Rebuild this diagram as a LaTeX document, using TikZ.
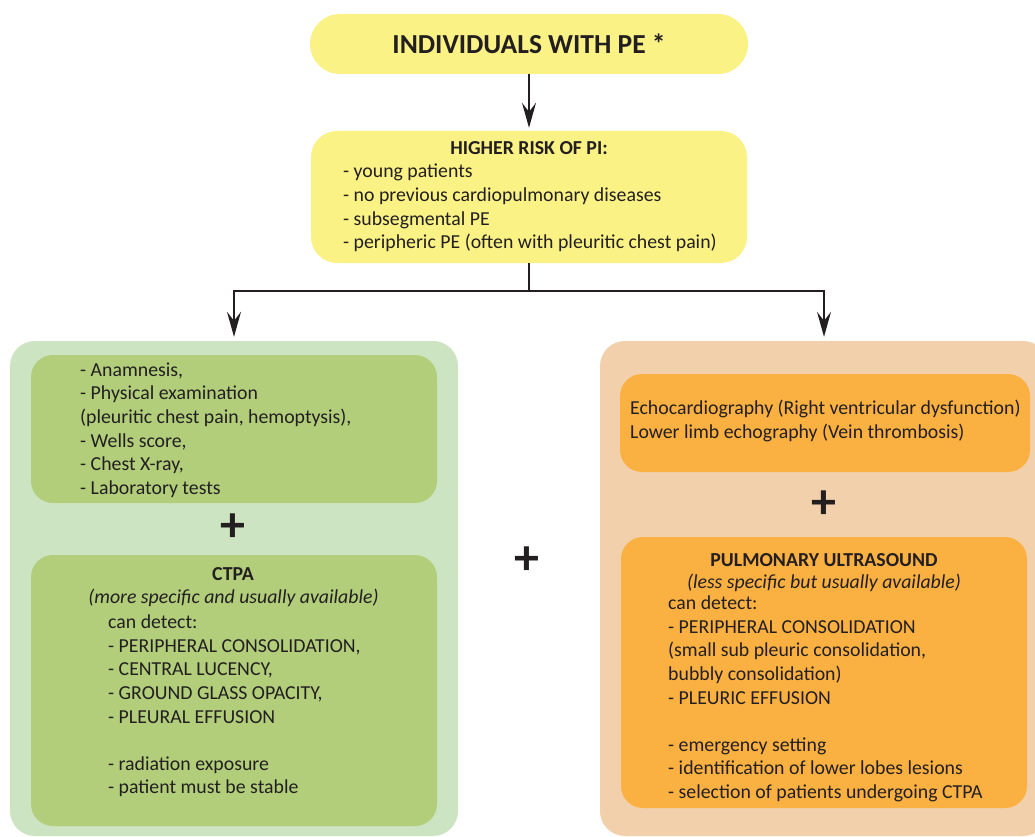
\documentclass[tikz,border=0pt]{standalone}
\usepackage{fontspec}
\setmainfont{Carlito}
\usetikzlibrary{arrows.meta}
\definecolor{ink}{HTML}{231F20}
\definecolor{peyellow}{HTML}{FAF285}
\definecolor{greenpale}{HTML}{CDE4C2}
\definecolor{greenmid}{HTML}{B2CE7B}
\definecolor{orangepale}{HTML}{F1D0AB}
\definecolor{orangemid}{HTML}{FBB042}
\begin{document}
\begin{tikzpicture}[x=1pt,y=-1pt,
    card/.style={inner sep=0pt,rounded corners=#1},
    txt/.style={text=ink,inner sep=0pt,align=left,font=\fontsize{19.8}{23.6}\selectfont},
    head/.style={text=ink,inner sep=0pt,font=\fontsize{19.8}{23.6}\selectfont\bfseries},
    note/.style={text=ink,inner sep=0pt,font=\fontsize{19.8}{23.6}\selectfont\itshape},
    plus/.style={text=ink,inner sep=0pt,font=\fontsize{50}{50}\selectfont\bfseries},
    arr/.style={-{Stealth[length=25pt,width=14pt,inset=9pt]},line width=1.5pt,draw=ink}]
    \useasboundingbox (0,0) rectangle (1035,837);
    \clip (0,0) rectangle (1035,837);

    % top
    \node[card=30pt,fill=peyellow,minimum width=438pt,minimum height=60pt] (pe) at (529,44) {};
    \node[text=ink,font=\fontsize{27.5}{30}\selectfont\bfseries] (petext) at (529,44) {INDIVIDUALS WITH PE *};
    \node[card=26pt,fill=peyellow,minimum width=436pt,minimum height=132pt] (risk) at (529,197) {};
    \node[head] (risktitle) at (529,148) {HIGHER RISK OF PI:};
    \node[txt,anchor=west] (risklist) at (343,208) {- young patients\\- no previous cardiopulmonary diseases\\- subsegmental PE\\- peripheric PE (often with pleuritic chest pain)};

    % left column
    \node[card=25pt,fill=greenpale,minimum width=448pt,minimum height=495pt] (leftpanel) at (234,588.5) {};
    \node[card=22pt,fill=greenmid,minimum width=406pt,minimum height=148pt] (clinic) at (234,429) {};
    \node[txt,anchor=west] (cliniclist) at (80,430) {- Anamnesis,\\- Physical examination\\(pleuritic chest pain, hemoptysis),\\- Wells score,\\- Chest X-ray,\\- Laboratory tests};
    \node[plus] (plusleft) at (233,528) {+};
    \node[card=22pt,fill=greenmid,minimum width=406pt,minimum height=271pt] (ctpa) at (234,690.5) {};
    \node[head] (ctpatitle) at (233,574) {CTPA};
    \node[note] (ctpanote) at (233.5,598) {(more specific and usually available)};
    \node[txt,anchor=west] (ctpalist) at (108,706) {can detect:\\- PERIPHERAL CONSOLIDATION,\\- CENTRAL LUCENCY,\\- GROUND GLASS OPACITY,\\- PLEURAL EFFUSION\\[23.6pt]- radiation exposure\\- patient must be stable};

    % middle
    \node[plus] (plusmid) at (527,561) {+};

    % right column
    \node[card=25pt,fill=orangepale,minimum width=448pt,minimum height=495pt] (rightpanel) at (824,588.5) {};
    \node[card=22pt,fill=orangemid,minimum width=410pt,minimum height=98pt] (echo) at (825,423) {};
    \node[txt,anchor=west] (echolist) at (630,421) {Echocardiography (Right ventricular dysfunction)\\Lower limb echography (Vein thrombosis)};
    \node[plus] (plusright) at (824,505) {+};
    \node[card=22pt,fill=orangemid,minimum width=406pt,minimum height=271pt] (lus) at (824,672.5) {};
    \node[head] (lustitle) at (824,560) {PULMONARY ULTRASOUND};
    \node[note] (lusnote) at (824,583) {(less specific but usually available)};
    \node[txt,anchor=west] (luslist) at (668,699) {can detect:\\- PERIPHERAL CONSOLIDATION\\(small sub pleuric consolidation,\\bubbly consolidation)\\- PLEURIC EFFUSION\\[23.6pt]- emergency setting\\- identification of lower lobes lesions\\- selection of patients undergoing CTPA};

    % connectors
    \coordinate (split) at (529,291);
    \draw[arr,shorten >=3pt] (pe) -- (risk);
    \draw[line width=1.5pt,draw=ink] (risk) -- (split);
    \draw[arr,shorten >=4pt] (split) -| (leftpanel);
    \draw[arr,shorten >=4pt] (split) -| (rightpanel);

\end{tikzpicture}
\end{document}
